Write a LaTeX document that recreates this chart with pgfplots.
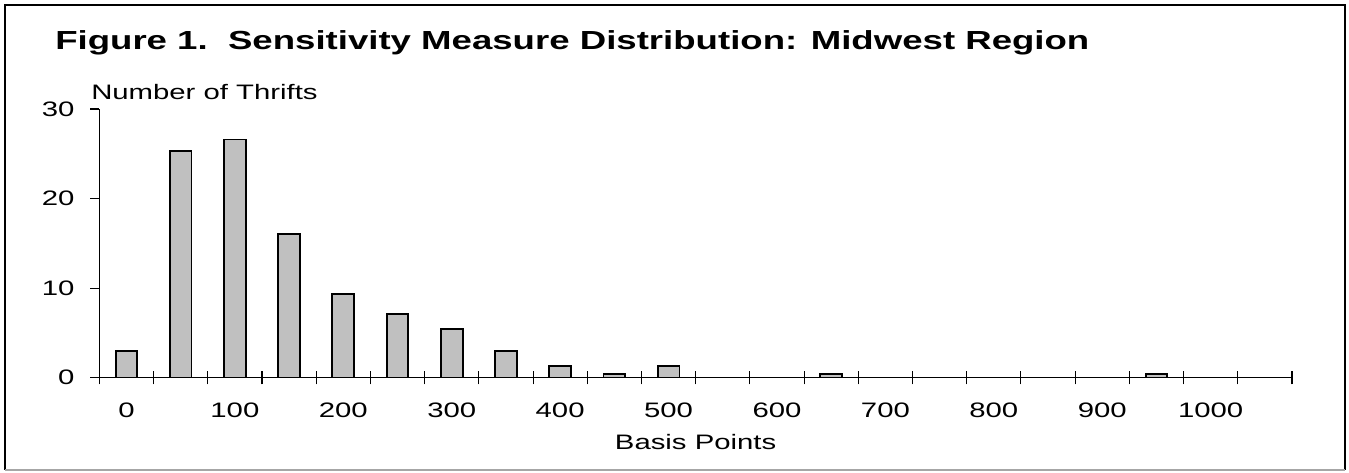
\documentclass[border=0pt]{standalone}
\usepackage{fontspec}
\setmainfont{Liberation Sans}[FakeStretch=1.4]
\usepackage{pgfplots}
\pgfplotsset{compat=1.18}
\definecolor{barfill}{RGB}{192,192,192}
\begin{document}
\begin{tikzpicture}
\path[use as bounding box] (0,0) rectangle (1011.75pt,354.75pt);
\draw[black, line width=1.5pt] (3.75pt,2.25pt) -- (3.75pt,351pt) -- (1008.75pt,351pt) -- (1008.75pt,2.25pt);
\draw[black!35, line width=1.5pt] (3.75pt,2.25pt) -- (1008.75pt,2.25pt);
\begin{axis}[
  at={(74.5pt,71.5pt)}, anchor=south west,
  scale only axis, width=894.5pt, height=201.5pt,
  xmin=-0.5, xmax=21.5, ymin=0, ymax=30,
  axis x line=bottom, axis y line=left,
  axis line style={-, black, line width=0.8pt},
  ybar, bar width=16.3pt,
  xtick={0,2,4,6,8,10,12,14,16,18,20},
  xticklabels={0,100,200,300,400,500,600,700,800,900,1000},
  minor xtick={-0.5,0.5,...,21.5},
  major x tick style={draw=none},
  minor tick length=10pt,
  xtick align=center,
  ytick={0,10,20,30}, ytick align=outside, major tick length=7pt,
  tick style={black, line width=0.8pt},
  /pgf/number format/assume math mode=true,
  ticklabel style={font=\fontsize{15.7pt}{18pt}\selectfont},
  xticklabel style={inner sep=0pt, anchor=north, yshift=-15.5pt},
  yticklabel style={inner sep=0pt, anchor=east, xshift=-11.5pt},
  axis on top,
]
\addplot[fill=barfill, draw=black, line width=1.4pt] coordinates {
  (0,3.0) (1,25.3) (2,26.6) (3,16.0) (4,9.3) (5,7.1) (6,5.4) (7,3.0)
  (8,1.3) (9,0.42) (10,1.3) (13,0.42) (19,0.42)
};
\end{axis}
\node[anchor=base west, inner sep=0pt, font=\bfseries\fontsize{19.6pt}{22pt}\selectfont] at (41.25pt,317.25pt) {Figure 1.\ \ Sensitivity Measure Distribution: Midwest Region};
\node[anchor=base west, inner sep=0pt, font=\fontsize{15.7pt}{18pt}\selectfont] at (68.25pt,279.75pt) {Number of Thrifts};
\node[anchor=base, inner sep=0pt, font=\fontsize{15.7pt}{18pt}\selectfont] at (521.7pt,17.25pt) {Basis Points};
\end{tikzpicture}
\end{document}
